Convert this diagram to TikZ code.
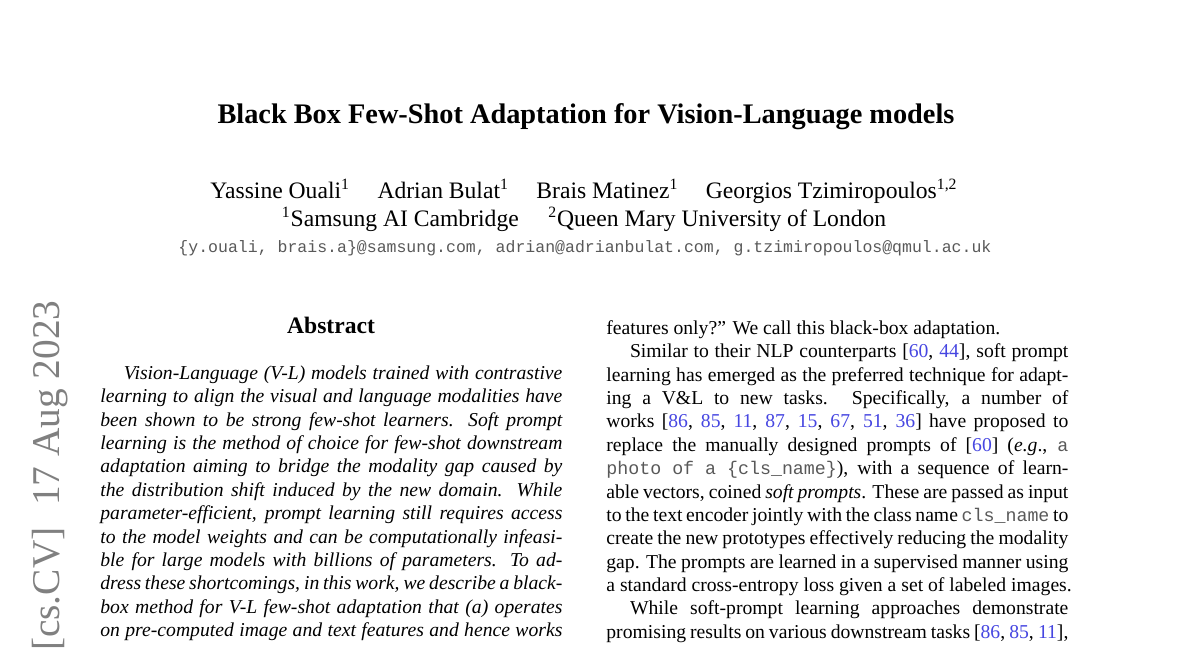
\documentclass[tikz,border=0pt]{standalone}
\usepackage{fontspec}
\setmainfont{Liberation Serif}
\setmonofont{Liberation Mono}
\usepackage{xcolor}
\usepackage{tikz}

\definecolor{citeblue}{RGB}{70,70,225}
\definecolor{ttgray}{gray}{0.35}
\newlength{\colw}
\setlength{\colw}{234.9pt}
\newcommand{\ct}[1]{\textcolor{citeblue}{#1}}
\newcommand{\code}[1]{{\color{ttgray}\fontsize{9.3}{12}\selectfont\ttfamily #1}}
\newcommand{\jline}[1]{\hbox to\colw{#1}}

\begin{document}
\begin{tikzpicture}[x=0.5084pt,y=-0.5084pt,
    body/.style={anchor=base west,inner sep=0pt,font=\fontsize{10}{12}\selectfont},
    ibody/.style={body,font=\fontsize{10}{12}\selectfont\itshape},
    head/.style={anchor=base,inner sep=0pt}]
			\fill[white] (0,0) rectangle (1200,648);
			\useasboundingbox (0,0) rectangle (1200,648);
			% side stamp
			\node[anchor=base east,rotate=90,inner sep=0pt,text=gray,font=\fontsize{20}{24}\selectfont] (stamp) at (59,300) {[cs.CV]\hspace{11pt}17 Aug 2023};
			% title block
			\node[head,font=\fontsize{14.4}{17}\selectfont\bfseries] (title) at (586,123) {Black Box Few-Shot Adaptation for Vision-Language models};
			\node[head,font=\fontsize{12}{14}\selectfont] (auth) at (584,198) {Yassine Ouali\textsuperscript{1}\hspace{14pt}Adrian Bulat\textsuperscript{1}\hspace{14pt}Brais Matinez\textsuperscript{1}\hspace{14pt}Georgios Tzimiropoulos\textsuperscript{1,2}};
			\node[head,font=\fontsize{12}{14}\selectfont] (affil) at (584,226) {\textsuperscript{1}Samsung AI Cambridge\hspace{15pt}\textsuperscript{2}Queen Mary University of London};
			\node[head,text=ttgray,font=\fontsize{8.4}{10}\selectfont\ttfamily] (mail) at (585,252) {\{y.ouali, brais.a\}@samsung.com, adrian@adrianbulat.com, g.tzimiropoulos@qmul.ac.uk};
			% left column
			\node[head,font=\fontsize{12}{14}\selectfont\bfseries] (abs) at (331,333) {Abstract};
			\node[ibody] (l1) at (100,379.5) {\jline{\hspace*{12pt}Vision-Language (V-L) models trained with contrastive}};
			\node[ibody] (l2) at (100,402.9) {\jline{learning to align the visual and language modalities have}};
			\node[ibody] (l3) at (100,426.2) {\jline{been shown to be strong few-shot learners.  Soft prompt}};
			\node[ibody] (l4) at (100,449.6) {\jline{learning is the method of choice for few-shot downstream}};
			\node[ibody] (l5) at (100,472.9) {\jline{adaptation aiming to bridge the modality gap caused by}};
			\node[ibody] (l6) at (100,496.3) {\jline{the distribution shift induced by the new domain.  While}};
			\node[ibody] (l7) at (100,519.6) {\jline{parameter-efficient, prompt learning still requires access}};
			\node[ibody] (l8) at (100,543.0) {\jline{to the model weights and can be computationally infeasi-}};
			\node[ibody] (l9) at (100,566.3) {\jline{ble for large models with billions of parameters.  To ad-}};
			\node[ibody] (l10) at (100,589.7) {\jline{dress these shortcomings, in this work, we describe a black-}};
			\node[ibody] (l11) at (100,613.0) {\jline{box method for V-L few-shot adaptation that (a) operates}};
			\node[ibody] (l12) at (100,636.4) {\jline{on pre-computed image and text features and hence works}};
			% right column
			\node[body] (r1) at (606,334.5) {features only?'' We call this black-box adaptation.};
			\node[body] (r2) at (606,357.9) {\jline{\hspace*{12pt}Similar to their NLP counterparts [\ct{60}, \ct{44}], soft prompt}};
			\node[body] (r3) at (606,381.2) {\jline{learning has emerged as the preferred technique for adapt-}};
			\node[body] (r4) at (606,404.6) {\jline{ing a V\&L to new tasks.  Specifically, a number of}};
			\node[body] (r5) at (606,427.9) {\jline{works [\ct{86}, \ct{85}, \ct{11}, \ct{87}, \ct{15}, \ct{67}, \ct{51}, \ct{36}] have proposed to}};
			\node[body] (r6) at (606,451.3) {\jline{replace the manually designed prompts of [\ct{60}] (\emph{e.g}., \code{a}}};
			\node[body] (r7) at (606,474.6) {\jline{\code{photo of a \{cls\_name\}}), with a sequence of learn-}};
			\node[body] (r8) at (606,498.0) {\jline{able vectors, coined \emph{soft prompts}. These are passed as input}};
			\node[body] (r9) at (606,521.3) {\jline{to the text encoder jointly with the class name \code{cls\_name} to}};
			\node[body] (r10) at (606,544.7) {\jline{create the new prototypes effectively reducing the modality}};
			\node[body] (r11) at (606,568.0) {\jline{gap. The prompts are learned in a supervised manner using}};
			\node[body] (r12) at (606,591.4) {a standard cross-entropy loss given a set of labeled images.};
			\node[body] (r13) at (606,614.7) {\jline{\hspace*{12pt}While soft-prompt learning approaches demonstrate}};
			\node[body] (r14) at (606,638.1) {\jline{promising results on various downstream tasks [\ct{86}, \ct{85}, \ct{11}],}};
		\end{tikzpicture}
\end{document}
